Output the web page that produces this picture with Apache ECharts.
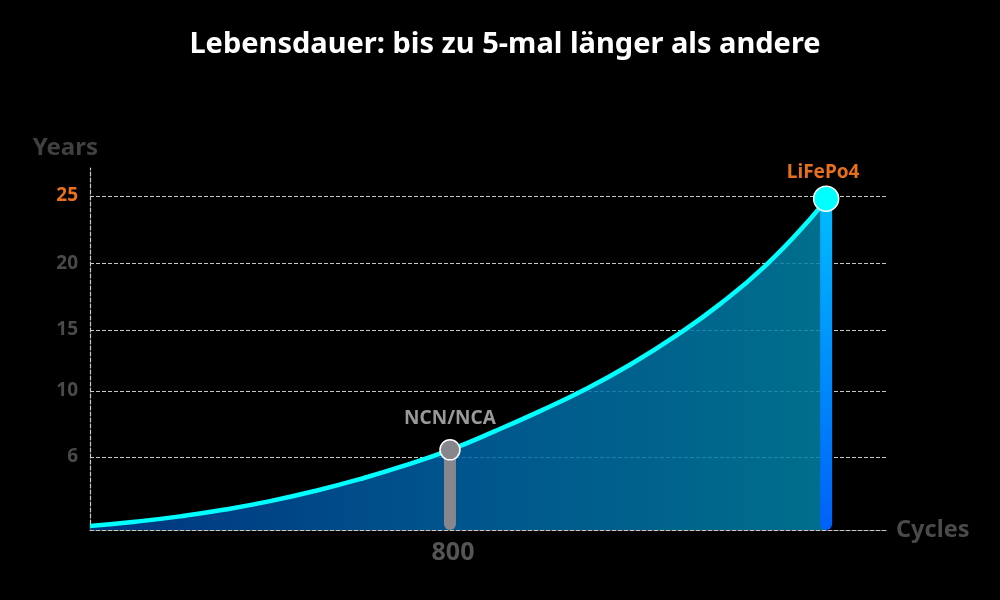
<!DOCTYPE html>
<html><head><meta charset="utf-8">
<style>html,body{margin:0;padding:0;background:#000}#c{width:1000px;height:600px}</style>
<script src="https://cdn.jsdelivr.net/npm/echarts@6/dist/echarts.min.js"></script>
</head><body><div id="c"></div>
<script>
const titleText = 'Lebensdauer: bis zu 5-mal länger als andere';
const curveCycles = [0,100,200,300,400,500,600,700,800,900,1000,1100,1200,1300,1400,1500,1600,1636];
const curveYears = [0.3,0.62,1.02,1.53,2.16,2.92,3.81,4.83,6.0,7.4,8.9,10.52,12.37,14.49,16.91,19.76,23.26,24.8];
const yTickPositions = [5.46,10.4,14.97,19.96,25];
const yTickLabels = ['6','10','15','20','25'];
const xTickValues = [800];
const markerNames = ['NCN/NCA','LiFePo4'];
const markerCycles = [800,1636];
const markerYears = [6.0,24.8];

const chart = echarts.init(document.getElementById('c'), null, {renderer:'canvas'});
const FONT = '"Noto Sans", sans-serif';
const dash = {color:'#c8c8c8', width:1.2, type:[4,2]};
chart.setOption({
  animation:false,
  backgroundColor:'#000',
  title:{text:titleText,left:500,top:25,textAlign:'center',
    textStyle:{color:'#fff',fontFamily:FONT,fontWeight:'bold',fontSize:29}},
  grid:{left:90,right:114,top:168,bottom:70},
  xAxis:{type:'value',min:0,max:1769,name:'Cycles',nameLocation:'end',nameGap:10,
    nameTextStyle:{color:'#4a4a4a',fontFamily:FONT,fontWeight:'bold',fontSize:23.5},
    axisLine:{show:true,lineStyle:dash},
    axisTick:{show:false,customValues:xTickValues},
    splitLine:{show:false},
    axisLabel:{customValues:xTickValues,margin:10,color:'#555',fontFamily:FONT,fontWeight:'bold',fontSize:25,padding:[0,0,0,6]}},
  yAxis:{type:'value',min:0,max:27.1,name:'Years',nameLocation:'end',nameGap:8,
    nameTextStyle:{color:'#404040',fontFamily:FONT,fontWeight:'bold',fontSize:24,align:'right',padding:[0,-8,0,0]},
    axisLine:{show:true,lineStyle:dash},
    axisTick:{show:false,customValues:yTickPositions},
    splitLine:{show:true,lineStyle:dash},
    axisLabel:{customValues:yTickPositions,margin:12,fontFamily:FONT,fontWeight:'bold',fontSize:19,padding:[4,0,0,0],
      formatter:v=>yTickLabels[yTickPositions.indexOf(Number(v))],
      color:v=>yTickLabels[yTickPositions.indexOf(Number(v))]==='25'?'#e8701c':'#4a4a4a'}},
  series:[
    {type:'line',name:'curve',z:3,smooth:0.5,showSymbol:false,symbol:'none',
     data:curveCycles.map((c,i)=>[c,curveYears[i]]),
     lineStyle:{color:'#00ffff',width:4.5,cap:'butt'},
     areaStyle:{opacity:1,color:new echarts.graphic.LinearGradient(0,0,1,0,[
       {offset:0,color:'rgba(0,62,150,0.85)'},
       {offset:0.5,color:'rgba(0,100,165,0.85)'},
       {offset:1,color:'rgba(0,130,165,0.85)'}])}},
    {type:'bar',name:'bars',z:4,barWidth:12,
     data:[
      {value:[markerCycles[0],markerYears[0]],itemStyle:{color:'#86868c',borderRadius:[0,0,6,6]}},
      {value:[markerCycles[1],markerYears[1]],itemStyle:{borderRadius:[0,0,6,6],
        color:new echarts.graphic.LinearGradient(0,0,0,1,[{offset:0,color:'#00bcff'},{offset:1,color:'#0060f8'}])}}
     ]},
    {type:'scatter',name:'markers',z:5,
     data:[
      {name:markerNames[0],value:[markerCycles[0],markerYears[0]],symbolSize:20,
       itemStyle:{opacity:1,color:'#86868c',borderColor:'#fff',borderWidth:1.5},
       label:{show:true,position:'top',distance:11,formatter:'{b}',color:'#999',fontFamily:FONT,fontWeight:'bold',fontSize:19}},
      {name:markerNames[1],value:[markerCycles[1],markerYears[1]],symbolSize:25,
       itemStyle:{opacity:1,color:'#00ffff',borderColor:'#fff',borderWidth:1.5},
       label:{show:true,position:'top',distance:3,offset:[-3,0],formatter:'{b}',color:'#e8701c',fontFamily:FONT,fontWeight:'bold',fontSize:19}}
     ]}
  ]
});
</script></body></html>
